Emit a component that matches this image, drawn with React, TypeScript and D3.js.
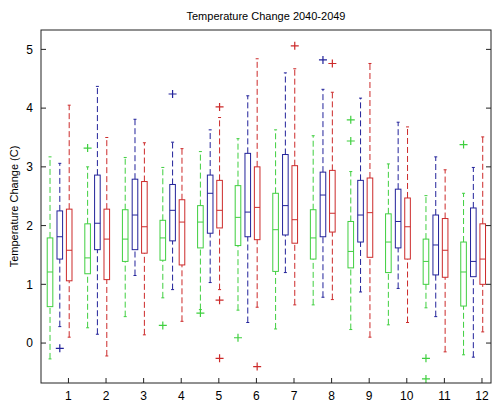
import { useEffect, useRef } from "react";
import * as d3 from "d3";

// [low whisker, q1, median, q3, high whisker]
const greenStats = [
  [-0.27, 0.62, 1.21, 1.79, 3.17], [0.26, 1.18, 1.45, 2.03, 3.0], [0.45, 1.39, 1.77, 2.27, 3.16],
  [0.77, 1.41, 1.79, 2.09, 2.99], [0.57, 1.62, 2.06, 2.34, 3.26], [0.56, 1.66, 2.14, 2.68, 3.48],
  [0.24, 1.22, 1.93, 2.55, 3.63], [0.65, 1.43, 1.79, 2.27, 3.53], [0.23, 1.28, 1.56, 2.07, 2.92],
  [0.31, 1.2, 1.72, 2.2, 3.05], [0.6, 1.0, 1.39, 1.77, 2.51], [-0.2, 0.63, 1.21, 1.72, 2.55],
];
const blueStats = [
  [0.28, 1.43, 1.81, 2.25, 3.06], [0.15, 1.59, 2.04, 2.86, 4.37], [1.15, 1.59, 2.18, 2.79, 3.81],
  [0.91, 1.74, 2.26, 2.7, 3.42], [1.03, 1.87, 2.55, 2.86, 3.63], [0.35, 1.81, 2.23, 3.23, 4.21],
  [1.2, 1.84, 2.34, 3.21, 4.6], [0.78, 1.81, 2.52, 2.91, 4.32], [0.87, 1.72, 2.18, 2.77, 4.17],
  [0.93, 1.62, 2.07, 2.62, 3.76], [0.45, 1.16, 1.67, 2.18, 3.17], [-0.24, 1.13, 1.39, 2.3, 2.99],
];
const redStats = [
  [0.1, 1.06, 1.58, 2.28, 4.05], [-0.22, 1.08, 1.77, 2.28, 3.5], [0.14, 1.53, 1.98, 2.75, 3.41],
  [0.37, 1.33, 2.06, 2.44, 3.31], [0.91, 1.96, 2.26, 2.77, 3.84], [0.61, 1.76, 2.31, 3.0, 4.84],
  [0.65, 1.7, 2.1, 3.02, 4.67], [0.74, 1.89, 2.21, 2.94, 4.27], [0.1, 1.46, 2.22, 2.81, 4.76],
  [0.35, 1.43, 1.98, 2.47, 3.68], [-0.15, 1.12, 1.58, 2.12, 2.95], [0.19, 1.0, 1.43, 2.03, 3.51],
];
// [group, value]
const greenOutliers = [[2, 3.32], [4, 0.3], [5, 0.51], [6, 0.09], [9, 3.8], [9, 3.44], [11, -0.26], [11, -0.61], [12, 3.38]];
const blueOutliers = [[1, -0.09], [4, 4.24], [8, 4.82]];
const redOutliers = [[5, 4.02], [5, 0.73], [5, -0.26], [6, -0.4], [7, 5.06], [8, 4.76]];

const groups = d3.range(1, 13);
const yTicks = [0, 1, 2, 3, 4, 5];

const series = [
  { stats: greenStats, outliers: greenOutliers, color: "#3fcf3f", offset: -0.49 },
  { stats: blueStats, outliers: blueOutliers, color: "#22229a", offset: -0.23 },
  { stats: redStats, outliers: redOutliers, color: "#cc2a2a", offset: 0.02 },
];

export default function App() {
  const ref = useRef<SVGSVGElement>(null);

  useEffect(() => {
    const svg = d3.select(ref.current);
    svg.selectAll("*").remove();
    const left = 41, right = 491, top = 30, bottom = 383;
    const x = d3.scaleLinear().domain([0.27, 12.24]).range([left, right]);
    const y = d3.scaleLinear().domain([-0.68, 5.33]).range([bottom, top]);
    const font = "'Liberation Sans', Arial, sans-serif";
    const bw = 5.6;

    series.forEach((s) => {
      s.stats.forEach((d, i) => {
        const cx = x(groups[i] + s.offset);
        const g = svg.append("g").attr("stroke", s.color).attr("fill", "none").attr("stroke-width", 1);
        g.append("line").attr("x1", cx).attr("x2", cx).attr("y1", y(d[0])).attr("y2", y(d[1])).attr("stroke-dasharray", "6,3");
        g.append("line").attr("x1", cx).attr("x2", cx).attr("y1", y(d[3])).attr("y2", y(d[4])).attr("stroke-dasharray", "6,3");
        [d[0], d[4]].forEach((v) =>
          g.append("line").attr("x1", cx - 1.5).attr("x2", cx + 1.5).attr("y1", y(v)).attr("y2", y(v))
        );
        g.append("rect").attr("x", cx - bw / 2).attr("width", bw).attr("y", y(d[3])).attr("height", y(d[1]) - y(d[3]));
        g.append("line").attr("x1", cx - bw / 2).attr("x2", cx + bw / 2).attr("y1", y(d[2])).attr("y2", y(d[2]));
      });
      s.outliers.forEach(([gi, v]) => {
        const cx = x(gi + s.offset), cy = y(v);
        svg.append("path").attr("d", `M${cx - 4},${cy}H${cx + 4}M${cx},${cy - 4}V${cy + 4}`).attr("stroke", s.color).attr("stroke-width", 1.2);
      });
    });

    // frame
    svg.append("rect").attr("x", left).attr("y", top).attr("width", right - left).attr("height", bottom - top)
      .attr("fill", "none").attr("stroke", "#222").attr("stroke-width", 1);

    yTicks.forEach((t) => {
      svg.append("line").attr("x1", left).attr("x2", left + 5).attr("y1", y(t)).attr("y2", y(t)).attr("stroke", "#222");
      svg.append("line").attr("x1", right).attr("x2", right - 5).attr("y1", y(t)).attr("y2", y(t)).attr("stroke", "#222");
      svg.append("text").attr("x", left - 8).attr("y", y(t)).attr("dy", "0.35em").attr("text-anchor", "end")
        .style("font-family", font).style("font-size", "12px").text(t);
    });
    groups.forEach((gi) => {
      svg.append("line").attr("x1", x(gi)).attr("x2", x(gi)).attr("y1", bottom).attr("y2", bottom - 5).attr("stroke", "#222");
      svg.append("text").attr("x", x(gi)).attr("y", 400).attr("text-anchor", "middle")
        .style("font-family", font).style("font-size", "12px").text(gi);
    });

    svg.append("text").attr("transform", `translate(14,${(top + bottom) / 2}) rotate(-90)`).attr("text-anchor", "middle")
      .attr("dy", "0.35em").style("font-family", font).style("font-size", "11px").text("Temperature Change (C)");
    svg.append("text").attr("x", (left + right) / 2).attr("y", 20).attr("text-anchor", "middle")
      .style("font-family", font).style("font-size", "11px").text("Temperature Change 2040-2049");
  }, []);

  return (
    <svg ref={ref} width={493} height={406}
      style={{ position: "absolute", left: 0, top: 0, background: "#fff" }} />
  );
}
